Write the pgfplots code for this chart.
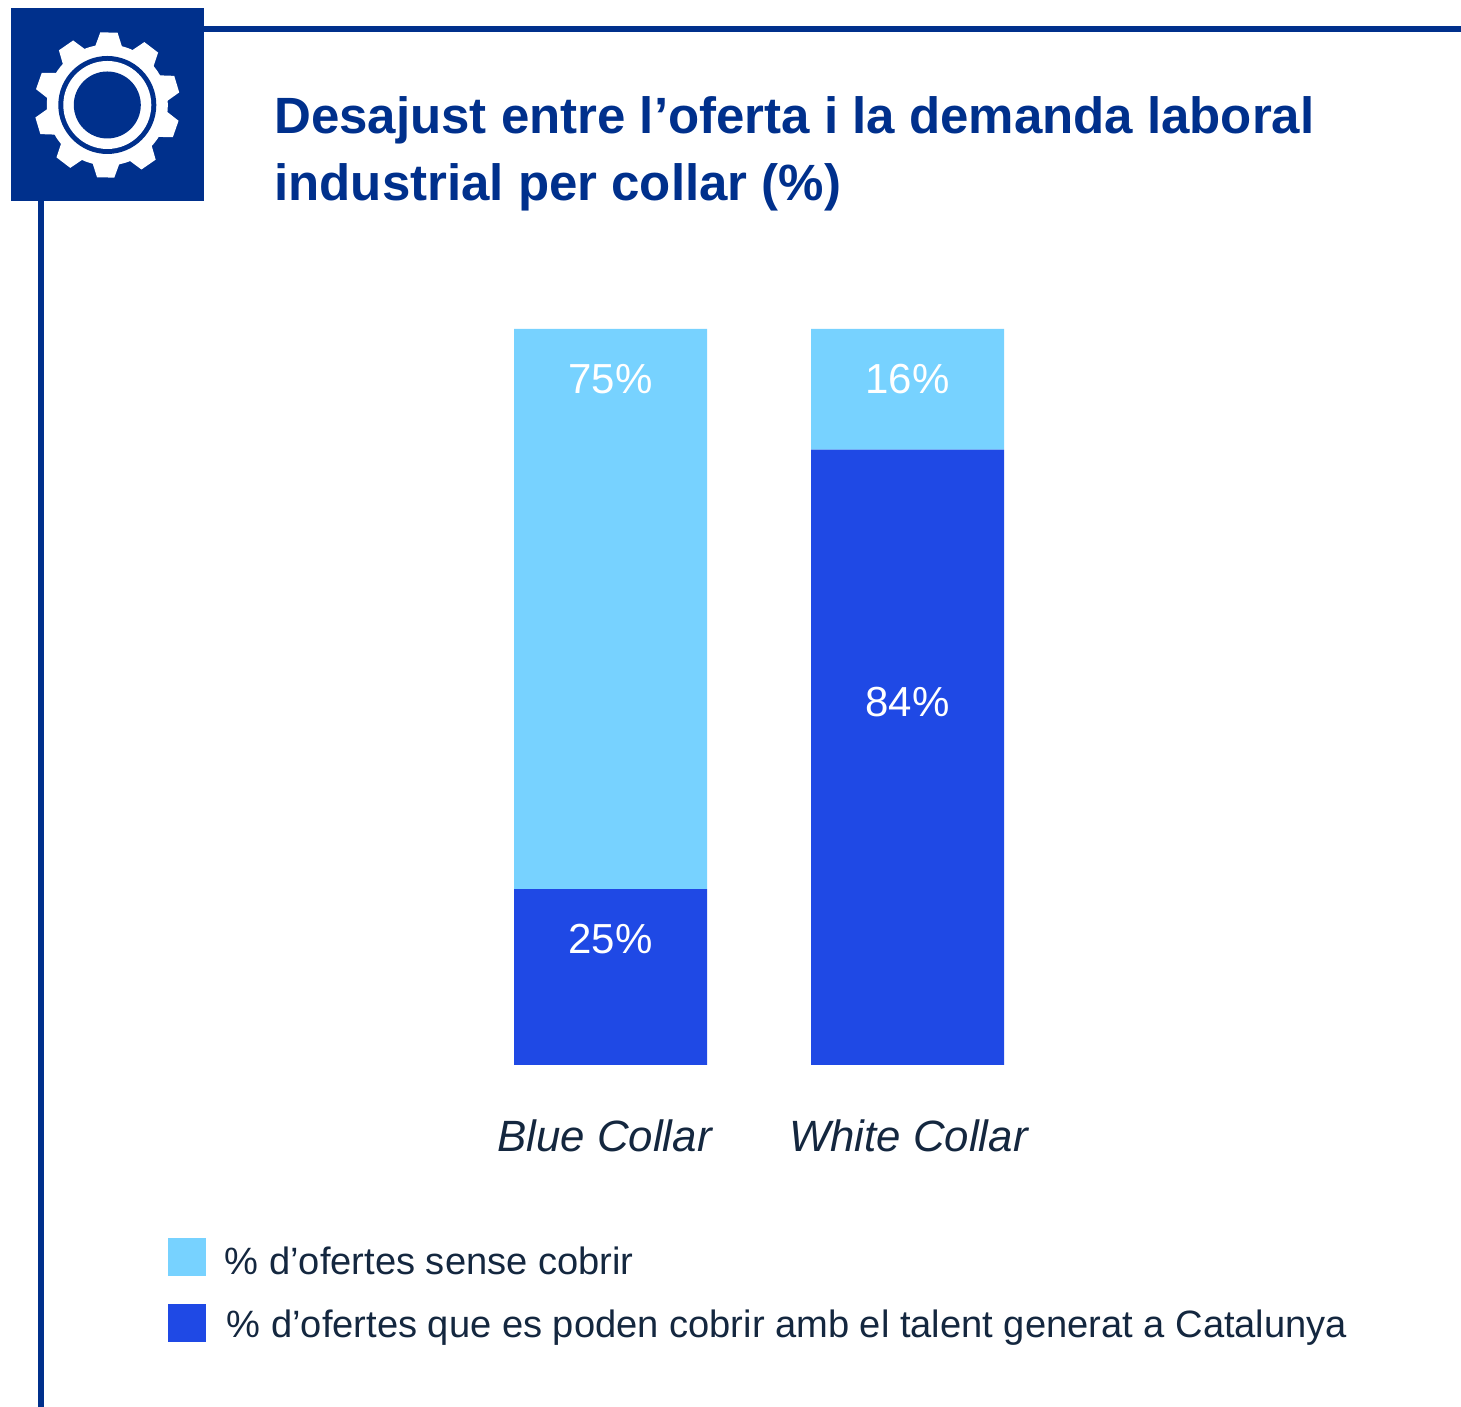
\documentclass[border=0pt]{standalone}
\usepackage{fontspec}
\setmainfont{Liberation Sans}
\usepackage{pgfplots}
\pgfplotsset{compat=1.18}
\definecolor{navy}{HTML}{00308C}
\definecolor{barlight}{HTML}{77D2FF}
\definecolor{bardark}{HTML}{1F49E5}
\definecolor{inkc}{HTML}{14273F}
\newcommand{\lgt}[3]{\hspace{#2}\smash{\raisebox{#1}{#3}}\vphantom{#3}}
\begin{document}
\begin{tikzpicture}
\useasboundingbox (0,0) rectangle (730.5pt,703.5pt);
\begin{axis}[
  at={(0pt,171pt)}, anchor=south west,
  scale only axis, width=730.5pt, height=368pt,
  xmin=-2.0556, xmax=2.8636, ymin=0, ymax=100,
  axis line style={draw=none},
  major tick length=0pt,
  ytick=\empty,
  xtick={-0.02,1.003}, xticklabels={Blue Collar,White Collar},
  xticklabel style={font=\itshape\fontsize{21.9}{24}\selectfont, text=inkc, anchor=base, yshift=-43.5pt},
  ybar stacked, bar width=96.5pt,
  clip=false,
  legend image code/.code={\fill[#1,draw=none] (0pt,-9.5pt) rectangle (19pt,9.5pt);},
  reverse legend,
  legend cell align=left,
  legend style={at={(axis cs:-1.4905,-23.53)}, anchor=north west, draw=none, fill=none, inner sep=0pt, outer sep=0pt,
    font=\fontsize{19.05}{22}\selectfont, text=inkc, row sep=13.5pt, nodes={inner xsep=10pt}},
]
\addplot[fill=bardark, draw=none] coordinates {(0,23.9) (1,83.6)};
\addlegendentry{\lgt{-1pt}{0.5pt}{\% d’ofertes que es poden cobrir amb el talent generat a Catalunya}}
\addplot[fill=barlight, draw=none] coordinates {(0,76.1) (1,16.4)};
\addlegendentry{\lgt{-2.5pt}{-0.5pt}{\% d’ofertes sense cobrir}}
\coordinate (la) at (axis cs:0,93.2);
\coordinate (lb) at (axis cs:1,93.2);
\coordinate (lc) at (axis cs:0,17.1);
\coordinate (ld) at (axis cs:1,49.3);
\end{axis}
\node[text=white,font=\fontsize{21}{24}\selectfont] at (la) {75\%};
\node[text=white,font=\fontsize{21}{24}\selectfont] at (lb) {16\%};
\node[text=white,font=\fontsize{21}{24}\selectfont] at (lc) {25\%};
\node[text=white,font=\fontsize{21}{24}\selectfont] at (ld) {84\%};
\begin{scope}[x=0.5pt,y=-0.5pt,yshift=703.5pt]
  \fill[navy] (204,26.3) rectangle (1461,31.7);
  \fill[navy] (38,201) rectangle (43.7,1407);
  \fill[navy] (11,8) rectangle (204,201);
  \node[anchor=base west,inner sep=0pt,text=navy,font=\bfseries\fontsize{25.5}{30}\selectfont] at (274,134) {Desajust entre l’oferta i la demanda laboral};
  \node[anchor=base west,inner sep=0pt,text=navy,font=\bfseries\fontsize{25.5}{30}\selectfont] at (274,201) {industrial per collar (\%)};
\end{scope}
\begin{scope}[x=0.5pt,y=0.5pt,shift={(53.65pt,651pt)}]
  \fill[white] (0,0) circle (60.5);
  \foreach \k in {0,...,9}{
    \pgfmathsetmacro{\a}{88.7-36*\k}
    \fill[white] (\a-13.5:59) -- (\a-6.8:73) -- (\a+6.8:73) -- (\a+13.5:59) -- cycle;
  }
  \fill[navy] (0,0) circle (49);
  \fill[white] (0,0) circle (44);
  \fill[navy] (0,0) circle (33.5);
\end{scope}
\end{tikzpicture}
\end{document}
